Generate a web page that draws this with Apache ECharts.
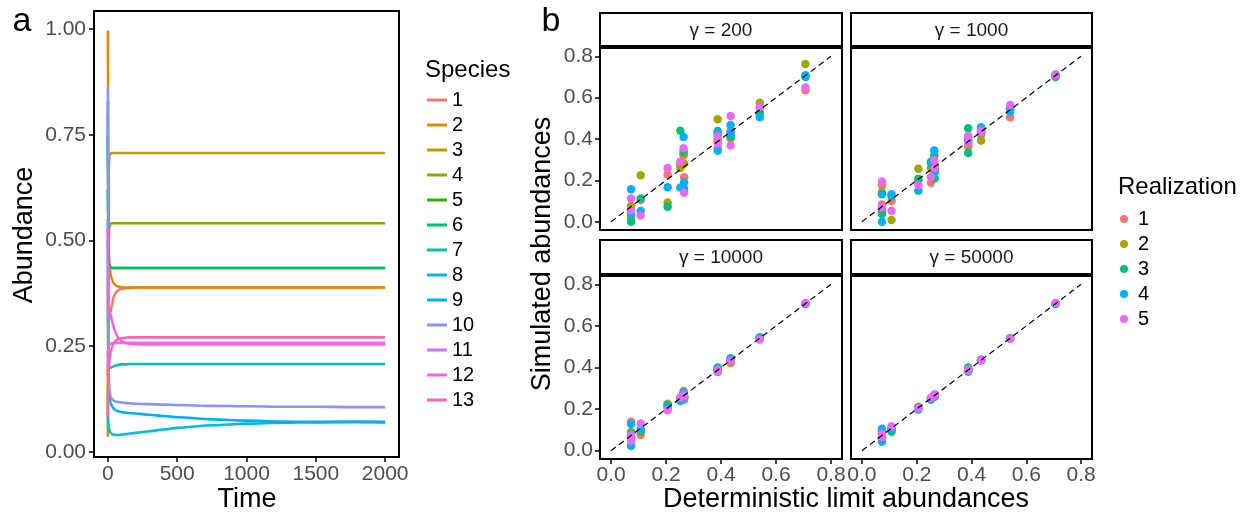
<!DOCTYPE html>
<html><head><meta charset="utf-8">
<script src="https://cdn.jsdelivr.net/npm/echarts@6/dist/echarts.min.js"></script>
<style>html,body{margin:0;padding:0;background:#fff}#chart{width:1243px;height:513px}</style>
</head><body><div id="chart"></div>
<script>
const FONT = '"Liberation Sans", Arial, Helvetica, sans-serif';

// ---------- Panel a: time series ----------
const speciesNames = ['1','2','3','4','5','6','7','8','9','10','11','12','13'];
const speciesColors = ['#F8766D','#E18A00','#BE9C00','#8CAB00','#24B700','#00BE70','#00C1AB','#00BBDA','#00ACFC','#8B93FF','#D575FE','#F962DD','#FF65AC'];
const times = [0,1,2,5,10,20,30,40,50,60,75,100,125,150,200,300,400,500,750,1000,1250,1500,1750,2000];
const abund1  = [0.18,0.22,0.26,0.31,0.32,0.33,0.35,0.365,0.373,0.378,0.383,0.386,0.387,0.388,0.389,0.389,0.389,0.389,0.389,0.389,0.389,0.389,0.389,0.389];
const abund2  = [0.997,0.80,0.65,0.50,0.45,0.42,0.407,0.40,0.396,0.393,0.391,0.390,0.389,0.389,0.389,0.389,0.389,0.389,0.389,0.389,0.389,0.389,0.389,0.389];
const abund3  = [0.036,0.30,0.50,0.66,0.70,0.706,0.707,0.707,0.707,0.707,0.707,0.707,0.707,0.707,0.707,0.707,0.707,0.707,0.707,0.707,0.707,0.707,0.707,0.707];
const abund4  = [0.10,0.25,0.38,0.50,0.53,0.54,0.541,0.541,0.541,0.541,0.541,0.541,0.541,0.541,0.541,0.541,0.541,0.541,0.541,0.541,0.541,0.541,0.541,0.541];
const abund5  = [0.62,0.55,0.50,0.46,0.44,0.436,0.435,0.435,0.435,0.435,0.435,0.435,0.435,0.435,0.435,0.435,0.435,0.435,0.435,0.435,0.435,0.435,0.435,0.435];
const abund6  = [0.75,0.62,0.54,0.47,0.445,0.437,0.435,0.435,0.435,0.435,0.435,0.435,0.435,0.435,0.435,0.435,0.435,0.435,0.435,0.435,0.435,0.435,0.435,0.435];
const abund7  = [0.24,0.22,0.21,0.20,0.198,0.199,0.201,0.202,0.204,0.205,0.206,0.207,0.207,0.208,0.208,0.208,0.208,0.208,0.208,0.208,0.208,0.208,0.208,0.208];
const abund8  = [0.095,0.085,0.075,0.062,0.052,0.045,0.042,0.041,0.040,0.040,0.040,0.041,0.042,0.043,0.045,0.049,0.053,0.057,0.063,0.067,0.069,0.070,0.071,0.071];
const abund9  = [0.83,0.50,0.30,0.17,0.13,0.115,0.108,0.103,0.100,0.098,0.096,0.094,0.093,0.092,0.091,0.088,0.085,0.082,0.077,0.074,0.072,0.071,0.071,0.070];
const abund10 = [0.865,0.55,0.35,0.20,0.15,0.13,0.125,0.122,0.120,0.119,0.118,0.117,0.116,0.115,0.114,0.113,0.112,0.111,0.109,0.108,0.107,0.107,0.106,0.106];
const abund11 = [0.20,0.22,0.235,0.248,0.253,0.256,0.257,0.258,0.258,0.258,0.258,0.258,0.258,0.258,0.258,0.258,0.258,0.258,0.258,0.258,0.258,0.258,0.258,0.258];
const abund12 = [0.53,0.42,0.37,0.34,0.33,0.325,0.31,0.298,0.287,0.279,0.27,0.262,0.258,0.256,0.255,0.254,0.254,0.254,0.254,0.254,0.254,0.254,0.254,0.254];
const abund13 = [0.084,0.12,0.15,0.19,0.21,0.235,0.248,0.256,0.261,0.264,0.267,0.269,0.27,0.271,0.271,0.271,0.271,0.271,0.271,0.271,0.271,0.271,0.271,0.271];
const abundances = [abund1,abund2,abund3,abund4,abund5,abund6,abund7,abund8,abund9,abund10,abund11,abund12,abund13];
const timeTicks = [0,500,1000,1500,2000];
const abundTicks = [0,0.25,0.5,0.75,1];

// ---------- Panel b: simulated vs deterministic ----------
const gammaLabels = ['\u03B3 = 200','\u03B3 = 1000','\u03B3 = 10000','\u03B3 = 50000'];
const realizationNames = ['1','2','3','4','5'];
const realizationColors = ['#F8766D','#A3A500','#00BF7D','#00B0F6','#E76BF3'];
const detLimit = [0.388,0.388,0.707,0.541,0.435,0.435,0.206,0.073,0.073,0.108,0.264,0.252,0.266];
// rows = realizations 1..5, columns = species 1..13
const sim200 = [
  [0.356,0.39,0.636,0.55,0.44,0.43,0.228,0.03,0.018,0.105,0.32,0.27,0.215],
  [0.495,0.40,0.763,0.575,0.404,0.41,0.093,0.077,0.02,0.225,0.33,0.26,0.28],
  [0.439,0.42,0.70,0.527,0.415,0.42,0.073,0.0,0.05,0.112,0.34,0.44,0.16],
  [0.343,0.43,0.708,0.505,0.468,0.428,0.167,0.157,0.037,0.052,0.41,0.165,0.19],
  [0.415,0.38,0.649,0.556,0.511,0.369,0.26,0.056,0.112,0.03,0.355,0.29,0.14]
];
const sim1000 = [
  [0.361,0.39,0.705,0.505,0.44,0.43,0.20,0.176,0.083,0.10,0.237,0.189,0.25],
  [0.40,0.37,0.71,0.55,0.393,0.42,0.256,0.144,0.06,0.008,0.28,0.26,0.27],
  [0.452,0.332,0.70,0.545,0.44,0.43,0.208,0.05,0.037,0.125,0.32,0.29,0.21],
  [0.41,0.39,0.712,0.532,0.457,0.445,0.15,0.133,0.0,0.133,0.345,0.285,0.24],
  [0.415,0.38,0.71,0.564,0.431,0.44,0.177,0.195,0.069,0.053,0.297,0.216,0.26]
];
const sim10000 = [
  [0.39,0.385,0.705,0.54,0.43,0.435,0.21,0.139,0.06,0.075,0.287,0.25,0.245],
  [0.395,0.39,0.708,0.54,0.422,0.425,0.226,0.09,0.065,0.09,0.27,0.255,0.26],
  [0.40,0.392,0.706,0.542,0.445,0.44,0.22,0.083,0.07,0.098,0.275,0.245,0.26],
  [0.378,0.395,0.705,0.546,0.44,0.435,0.214,0.128,0.022,0.102,0.28,0.239,0.255],
  [0.388,0.382,0.71,0.535,0.432,0.43,0.195,0.075,0.048,0.131,0.268,0.255,0.262]
];
const sim50000 = [
  [0.39,0.387,0.708,0.54,0.436,0.434,0.205,0.08,0.06,0.10,0.262,0.25,0.265],
  [0.388,0.39,0.707,0.541,0.435,0.436,0.21,0.09,0.065,0.10,0.265,0.252,0.262],
  [0.40,0.395,0.706,0.542,0.437,0.435,0.208,0.09,0.06,0.091,0.26,0.245,0.26],
  [0.385,0.38,0.705,0.538,0.434,0.436,0.198,0.105,0.043,0.105,0.268,0.25,0.27],
  [0.39,0.385,0.71,0.54,0.435,0.433,0.205,0.08,0.065,0.118,0.266,0.255,0.268]
];
const simSets = [sim200, sim1000, sim10000, sim50000];
const simTicks = [0,0.2,0.4,0.6,0.8];
const identityLine = [[0,0],[0.8,0.8]];

// ---------- layout ----------
const facetBoxes = [
  {left:600, top:48,  width:242, height:182, stripTop:13,  stripH:33, xLab:false, yLab:true},
  {left:851, top:48,  width:241, height:182, stripTop:13,  stripH:33, xLab:false, yLab:false},
  {left:600, top:276, width:242, height:183, stripTop:240, stripH:34, xLab:true,  yLab:true},
  {left:851, top:276, width:241, height:183, stripTop:240, stripH:34, xLab:true,  yLab:false}
];
const tickStyle = {color:'#000', width:1.5};
const labStyle = {fontSize:21, color:'#4D4D4D', fontFamily:FONT};

const grids = [{left:94, top:11, width:305, height:446, show:true, borderColor:'#000', borderWidth:2, backgroundColor:'#fff', containLabel:false, outerBoundsMode:'none'}];
const xAxes = [{
  type:'value', gridIndex:0, min:-100, max:2100,
  axisLine:{show:false, onZero:false},
  axisTick:{show:true, length:5, lineStyle:tickStyle, customValues:timeTicks},
  axisLabel:Object.assign({margin:7, customValues:timeTicks, formatter:v=>String(v)}, labStyle),
  splitLine:{show:false}
}];
const yAxes = [{
  type:'value', gridIndex:0, min:-0.012, max:1.043,
  axisLine:{show:false, onZero:false},
  axisTick:{show:true, length:5, lineStyle:tickStyle, customValues:abundTicks},
  axisLabel:Object.assign({margin:8, customValues:abundTicks, formatter:v=>v.toFixed(2)}, labStyle),
  splitLine:{show:false}
}];
facetBoxes.forEach((b,i)=>{
  grids.push({left:b.left, top:b.top, width:b.width, height:b.height, show:true, borderColor:'#000', borderWidth:2, backgroundColor:'#fff', containLabel:false, outerBoundsMode:'none'});
  xAxes.push({
    type:'value', gridIndex:i+1, min:-0.04, max:0.84,
    axisLine:{show:false, onZero:false},
    axisTick:{show:b.xLab, length:5, lineStyle:tickStyle, customValues:simTicks},
    axisLabel:Object.assign({show:b.xLab, margin:6, customValues:simTicks, formatter:v=>v.toFixed(1)}, labStyle),
    splitLine:{show:false}
  });
  yAxes.push({
    type:'value', gridIndex:i+1, min:-0.04, max:0.84,
    axisLine:{show:false, onZero:false},
    axisTick:{show:b.yLab, length:5, lineStyle:tickStyle, customValues:simTicks},
    axisLabel:Object.assign({show:b.yLab, margin:7, customValues:simTicks, formatter:v=>v.toFixed(1)}, labStyle),
    splitLine:{show:false}
  });
});

const series = [];
abundances.forEach((arr,i)=>{
  series.push({
    type:'line', name:'Species '+speciesNames[i], xAxisIndex:0, yAxisIndex:0,
    data: times.map((t,k)=>[t, arr[k]]),
    showSymbol:false, symbol:'none', smooth:0.3, smoothMonotone:'x',
    lineStyle:{width:2.6, color:speciesColors[i]}, itemStyle:{color:speciesColors[i]},
    silent:true, emphasis:{disabled:true}, z:2
  });
});
simSets.forEach((set,f)=>{
  set.forEach((row,r)=>{
    series.push({
      type:'scatter', name:realizationNames[r], xAxisIndex:f+1, yAxisIndex:f+1,
      data: detLimit.map((x,s)=>[x, row[s]]),
      symbol:'circle', symbolSize:8.5,
      itemStyle:{color:realizationColors[r], opacity:1},
      silent:true, emphasis:{disabled:true}, z:2
    });
  });
  series.push({
    type:'line', xAxisIndex:f+1, yAxisIndex:f+1, data:identityLine,
    symbol:'none', showSymbol:false,
    lineStyle:{color:'#000', width:1.2, type:[6,4]},
    silent:true, emphasis:{disabled:true}, z:3
  });
});

const graphics = [];
const txt = (text,x,y,size,opts)=>Object.assign({type:'text', x:x, y:y, silent:true,
  style:{text:text, fontSize:size, fontFamily:FONT, fill:(opts&&opts.fill)||'#000', align:'center', verticalAlign:'middle'}}, opts&&opts.el||{});
facetBoxes.forEach((b,i)=>{
  graphics.push({type:'rect', silent:true, shape:{x:b.left, y:b.stripTop, width:b.width, height:b.stripH},
    style:{fill:'#fff', stroke:'#000', lineWidth:2}});
  graphics.push(txt(gammaLabels[i], b.left+b.width/2, b.stripTop+b.stripH/2+1, 19, {fill:'#1A1A1A'}));
});
graphics.push(txt('a', 22, 22, 34));
graphics.push(txt('b', 551, 22, 34));
graphics.push(txt('Abundance', 25, 235, 27, {el:{rotation:Math.PI/2}}));
graphics.push(txt('Time', 247, 500, 27));
graphics.push(txt('Simulated abundances', 543, 254, 27, {el:{rotation:Math.PI/2}}));
graphics.push(txt('Deterministic limit abundances', 846, 500, 27));
graphics.push({type:'text', x:425, y:70, silent:true, style:{text:'Species', fontSize:24, fontFamily:FONT, fill:'#000', align:'left', verticalAlign:'middle'}});
graphics.push({type:'text', x:1118, y:187, silent:true, style:{text:'Realization', fontSize:24, fontFamily:FONT, fill:'#000', align:'left', verticalAlign:'middle'}});

const chart = echarts.init(document.getElementById('chart'), null, {renderer:'canvas'});
chart.setOption({
  animation:false,
  backgroundColor:'#fff',
  textStyle:{fontFamily:FONT},
  grid:grids, xAxis:xAxes, yAxis:yAxes, series:series,
  legend:[
    {data:speciesNames.map(n=>'Species '+n), orient:'vertical', left:427, top:90, padding:0,
     itemWidth:20, itemHeight:3, itemGap:5, itemTextGap:11, icon:'rect', selectedMode:false,
     formatter:n=>n.replace('Species ',''),
     textStyle:{fontSize:20, lineHeight:20, color:'#000', fontFamily:FONT}},
    {data:realizationNames, orient:'vertical', left:1120, top:209, padding:0,
     itemWidth:18, itemHeight:8, itemGap:5, itemTextGap:12, icon:'circle', selectedMode:false,
     textStyle:{fontSize:20, lineHeight:20, color:'#000', fontFamily:FONT}}
  ],
  graphic:graphics
});
</script></body></html>
